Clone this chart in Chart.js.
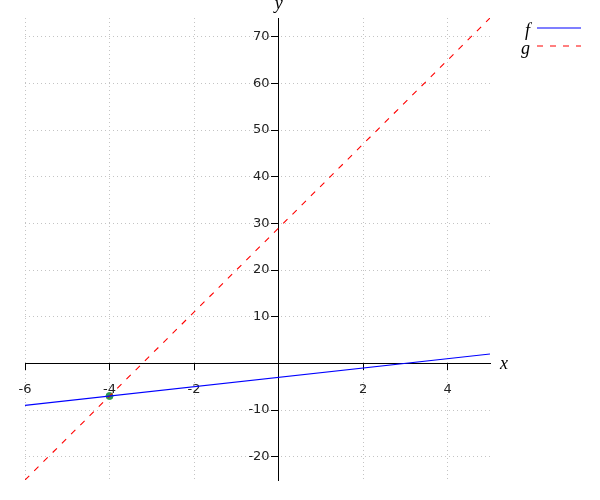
<!DOCTYPE html>
<html>
<head>
<meta charset="utf-8">
<script src="https://cdn.jsdelivr.net/npm/chart.js@4/dist/chart.umd.min.js"></script>
<style>
  body { margin: 0; background: #fff; }
  #wrap { position: relative; width: 600px; height: 500px; }
</style>
</head>
<body>
<div id="wrap"><canvas id="chart" width="600" height="500"></canvas></div>
<script>
// data
const xRange = [-6, 5];
const fValues = [-9, 2];      // f(x) = x - 3
const gValues = [-25, 74];    // g(x) = 9x + 29
const pointX = [-4];
const pointY = [-7];
const xTicks = [-6, -4, -2, 0, 2, 4];
const yTicks = [-20, -10, 0, 10, 20, 30, 40, 50, 60, 70];
const seriesNames = ['f', 'g'];

const tickFont = '13px "DejaVu Sans", sans-serif';
const toPoints = (xs, ys) => xs.map((x, i) => ({ x: x, y: ys[i] }));

// y tick labels, legend and the x / y axis titles
const extrasPlugin = {
    id: 'extras',
    afterDraw(chart) {
        const ctx = chart.ctx;
        const xs = chart.scales.x;
        const ys = chart.scales.y;
        const axisX = xs.getPixelForValue(0);
        ctx.save();

        // y labels sit left of the tick marks
        ctx.font = tickFont;
        ctx.fillStyle = '#222';
        ctx.textAlign = 'right';
        ctx.textBaseline = 'middle';
        ys.ticks.forEach(t => {
            if (t.value === 0) return;
            ctx.fillText(String(t.value), axisX - 9, ys.getPixelForValue(t.value));
        });

        ctx.fillStyle = '#000';
        ctx.font = 'italic 18px "Liberation Serif", serif';
        ctx.textAlign = 'left';
        ctx.fillText('x', xs.right + 10, ys.getPixelForValue(0) + 1);
        ctx.textAlign = 'center';
        ctx.fillText('y', axisX, ys.top - 14);

        // legend
        chart.data.datasets.slice(0, 2).forEach((ds, i) => {
            const y = 31 + i * 18;
            ctx.fillStyle = '#000';
            ctx.textAlign = 'right';
            ctx.fillText(ds.label, 530, y);
            ctx.strokeStyle = ds.borderColor;
            ctx.lineWidth = 1.2;
            ctx.setLineDash(ds.borderDash || []);
            ctx.beginPath();
            ctx.moveTo(537, y - 3);
            ctx.lineTo(581, y - 3);
            ctx.stroke();
        });
        ctx.restore();
    }
};

new Chart(document.getElementById('chart'), {
    type: 'scatter',
    data: {
        datasets: [
            {
                label: seriesNames[0],
                data: toPoints(xRange, fValues),
                showLine: true,
                borderColor: '#0000ff',
                borderWidth: 1.2,
                pointRadius: 0
            },
            {
                label: seriesNames[1],
                data: toPoints(xRange, gValues),
                showLine: true,
                borderColor: '#ff0000',
                borderWidth: 1.1,
                borderDash: [6, 7],
                pointRadius: 0
            },
            {
                label: 'point',
                data: toPoints(pointX, pointY),
                pointRadius: 3.5,
                pointBackgroundColor: '#2e9b4e',
                pointBorderColor: '#2e9b4e'
            }
        ]
    },
    options: {
        responsive: false,
        animation: false,
        layout: { padding: { left: 25, right: 110, top: 18, bottom: 20 } },
        plugins: {
            legend: { display: false },
            tooltip: { enabled: false }
        },
        scales: {
            x: {
                type: 'linear',
                min: xRange[0],
                max: xRange[1],
                position: { y: 0 },
                afterBuildTicks: s => { s.ticks = xTicks.map(v => ({ value: v })); },
                ticks: {
                    color: '#222',
                    font: { family: '"DejaVu Sans", sans-serif', size: 13 },
                    padding: 12,
                    callback: v => (v === 0 ? '' : v)
                },
                grid: { color: '#c4c4c4', tickColor: '#000', tickLength: 6 },
                border: { color: '#000', width: 1, dash: [1, 3] }
            },
            y: {
                type: 'linear',
                min: -25,
                max: 74,
                position: { x: 0 },
                afterBuildTicks: s => { s.ticks = yTicks.map(v => ({ value: v })); },
                ticks: { display: false },
                grid: { color: '#c4c4c4', tickColor: '#000', tickLength: 7 },
                border: { color: '#000', width: 1, dash: [1, 3] }
            }
        }
    },
    plugins: [extrasPlugin]
});
</script>
</body>
</html>
